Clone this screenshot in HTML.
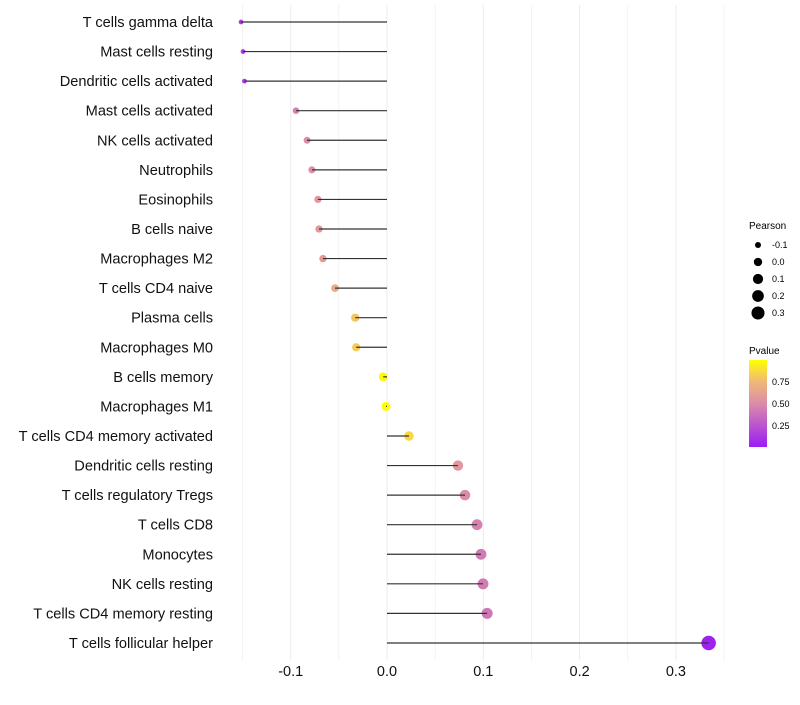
<!DOCTYPE html>
<html><head><meta charset="utf-8"><style>
body{margin:0;background:#fff;font-family:"Liberation Sans",sans-serif}
</style></head><body>
<svg id="c" width="800" height="700" xmlns="http://www.w3.org/2000/svg">
<defs><linearGradient id="pg" x1="0" y1="1" x2="0" y2="0">
<stop offset="0" stop-color="#9B1DF5"/><stop offset="0.5" stop-color="#DC8CA8"/><stop offset="0.75" stop-color="#F0B878"/><stop offset="1" stop-color="#FFFF00"/></linearGradient></defs>
<g id="grid"></g><g id="marks"></g><g id="labels"></g>
<g font-size="9" fill="#000">
<text x="749" y="229" font-size="10">Pearson</text>
<g id="sizeleg"></g>
</g>
<g font-size="9">
<text x="749" y="354" font-size="10">Pvalue</text>
<rect x="749" y="360" width="18" height="87" fill="url(#pg)"/>
<text x="772" y="385">0.75</text><text x="772" y="407">0.50</text><text x="772" y="429">0.25</text>
</g>
</svg>
<script>
const cells=["T cells gamma delta","Mast cells resting","Dendritic cells activated","Mast cells activated","NK cells activated","Neutrophils","Eosinophils","B cells naive","Macrophages M2","T cells CD4 naive","Plasma cells","Macrophages M0","B cells memory","Macrophages M1","T cells CD4 memory activated","Dendritic cells resting","T cells regulatory  Tregs ","T cells CD8","Monocytes","NK cells resting","T cells CD4 memory resting","T cells follicular helper"];
const pearson=[-0.1516,-0.1495,-0.148,-0.0945,-0.083,-0.078,-0.0717,-0.0706,-0.0665,-0.054,-0.033,-0.032,-0.004,-0.001,0.0228,0.0737,0.081,0.0935,0.0976,0.0997,0.104,0.334];
const pvalue=[0.12,0.12,0.12,0.45,0.5,0.52,0.56,0.57,0.58,0.68,0.8,0.82,0.98,0.99,0.86,0.56,0.5,0.45,0.42,0.42,0.4,0.02];
const xticks=[-0.1,0,0.1,0.2,0.3];
const xtickLabels=["-0.1","0.0","0.1","0.2","0.3"];
const sizeLeg=[-0.1,0,0.1,0.2,0.3];
const NS="http://www.w3.org/2000/svg";
const x=v=>387+v*963;
const y=i=>22+i*29.57;
const r=v=>Math.sqrt(Math.max(3,20.2+97*v));
function lerp(a,b,t){return a.map((c,i)=>Math.round(c+(b[i]-c)*t));}
const stops=[[0,[155,29,245]],[0.5,[220,140,168]],[0.75,[240,184,120]],[1,[255,255,0]]];
function col(p){for(let k=1;k<stops.length;k++){if(p<=stops[k][0]){const t=(p-stops[k-1][0])/(stops[k][0]-stops[k-1][0]);return "rgb("+lerp(stops[k-1][1],stops[k][1],t).join(",")+")";}}return "rgb(255,255,0)";}
function el(t,a,p){const e=document.createElementNS(NS,t);for(const k in a)e.setAttribute(k,a[k]);p.appendChild(e);return e;}
const grid=document.getElementById('grid'),marks=document.getElementById('marks'),labels=document.getElementById('labels');
for(let v=-0.15;v<=0.351;v+=0.05){const g=el('line',{x1:x(v),x2:x(v),y1:5,y2:660,stroke:'#ebebeb','stroke-width':Math.abs(Math.round(v*20))%2===0?1:0.6},grid);

}
xticks.forEach((v,i)=>{const t=el('text',{x:x(v),y:676,'text-anchor':'middle','font-size':14.5,fill:'#111'},labels);t.textContent=xtickLabels[i];

});
cells.forEach((c,i)=>{
const t=el('text',{x:213,y:y(i)+5,'text-anchor':'end','font-size':14.6,fill:'#111'},labels);t.textContent=c;


const d=el('circle',{cx:x(pearson[i]),cy:y(i),r:r(pearson[i]),fill:col(pvalue[i])},marks);


const l=el('line',{x1:x(0),x2:x(pearson[i]),y1:y(i),y2:y(i),stroke:'#333','stroke-width':1.2},marks);


});
const sl=document.getElementById('sizeleg');
sizeLeg.forEach((v,i)=>{const yy=245+i*17;
const c=el('circle',{cx:758,cy:yy,r:r(v)*0.93,fill:'#000'},sl);


const t=el('text',{x:772,y:yy+3},sl);t.textContent=v===0?"0.0":String(v);

});
</script>
</body></html>
